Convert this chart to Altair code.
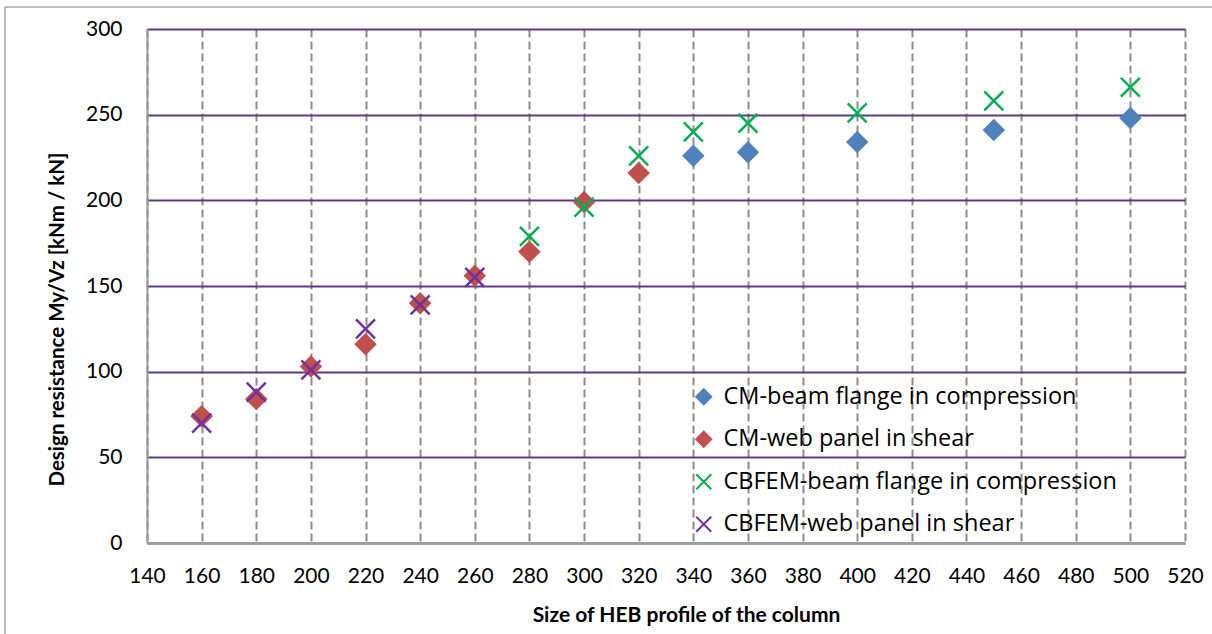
import altair as alt
import pandas as pd

series_names = [
    "CM-beam flange in compression",
    "CM-web panel in shear",
    "CBFEM-beam flange in compression",
    "CBFEM-web panel in shear",
]
colors = ["#4F81BD", "#C0504D", "#00B050", "#7030A0"]

cm_beam_x = [340, 360, 400, 450, 500]
cm_beam_y = [226, 228, 234, 241, 248]

cm_web_x = [160, 180, 200, 220, 240, 260, 280, 300, 320]
cm_web_y = [74, 84, 103, 116, 140, 156, 170, 199, 216]

cbfem_beam_x = [280, 300, 320, 340, 360, 400, 450, 500]
cbfem_beam_y = [179, 196, 226, 240, 245, 251, 258, 266]

cbfem_web_x = [160, 180, 200, 220, 240, 260]
cbfem_web_y = [70, 88, 101, 125, 139, 155]

x_ticks = list(range(140, 521, 20))
y_ticks = [0, 50, 100, 150, 200, 250, 300]

rows = []
for name, xs, ys in zip(series_names,
                        [cm_beam_x, cm_web_x, cbfem_beam_x, cbfem_web_x],
                        [cm_beam_y, cm_web_y, cbfem_beam_y, cbfem_web_y]):
    for xv, yv in zip(xs, ys):
        rows.append({"size": xv, "value": yv, "series": name})
df = pd.DataFrame(rows)

DIAMOND = "diamond"
XSHAPE = "M-1,-1L1,1M-1,1L1,-1"
shapes = [DIAMOND, DIAMOND, XSHAPE, XSHAPE]

FONT = "Lato"
LEGEND_FONT = "Open Sans"

color_scale = alt.Scale(domain=series_names, range=colors)


def make_legend():
    return alt.Legend(orient="none", legendX=545, legendY=356,
                      symbolSize=225, symbolStrokeWidth=2,
                      labelFontSize=23.5, labelOffset=8, labelFont=LEGEND_FONT,
                      rowPadding=17.5, padding=0, labelLimit=600)


points = alt.Chart(df).mark_point(filled=True, size=360, strokeWidth=2.5, opacity=1).encode(
    x=alt.X("size:Q",
            scale=alt.Scale(domain=[140, 520], nice=False, zero=False),
            axis=alt.Axis(values=x_ticks, title="Size of HEB profile of the column",
                          grid=True, gridColor="#8C8C8C", gridDash=[8, 4], gridWidth=2,
                          domainColor="#999999", domainWidth=2, ticks=False,
                          labelOverlap=False, labelFlush=False, labelPadding=22,
                          titlePadding=18, titleX=539,
                          labelFontSize=21, titleFontSize=21, titleFontWeight="bold")),
    y=alt.Y("value:Q",
            scale=alt.Scale(domain=[0, 300], nice=False),
            axis=alt.Axis(values=y_ticks, title="Design resistance My/Vz [kNm / kN]",
                          grid=True, gridColor="#5B3A8E", gridWidth=2,
                          domainColor="#999999", domainWidth=2, ticks=False,
                          labelOverlap=False, labelFlush=False, labelPadding=25,
                          titlePadding=18, titleY=290,
                          labelFontSize=21, titleFontSize=20.5, titleFontWeight="bold")),
    color=alt.Color("series:N", scale=color_scale, title=None, legend=make_legend()),
    stroke=alt.Stroke("series:N", scale=color_scale, title=None, legend=make_legend()),
    shape=alt.Shape("series:N", scale=alt.Scale(domain=series_names, range=shapes),
                    title=None, legend=make_legend()),
    order=alt.Order("idx:Q"),
).transform_calculate(idx="indexof(%s, datum.series)" % str(series_names))

border_df = pd.DataFrame({"b": [0]})
border_top = alt.Chart(border_df).mark_rule(color="#A6A6A6", strokeWidth=1.5).encode(
    x=alt.value(-142), x2=alt.value(1100), y=alt.value(-22))
border_left = alt.Chart(border_df).mark_rule(color="#A6A6A6", strokeWidth=1.5).encode(
    x=alt.value(-142), y=alt.value(-22), y2=alt.value(620))

chart = alt.layer(border_top, border_left, points).properties(
    width=1038, height=514,
    autosize=alt.AutoSizeParams(type="none"),
    padding={"left": 147, "top": 29, "right": 27, "bottom": 91},
).configure(font=FONT).configure_view(stroke=None).configure_axis(
    labelColor="#000000", titleColor="#000000", labelFont=FONT, titleFont=FONT
).configure_legend(labelColor="#000000")

chart.save("out.html", embed_options={"renderer": "svg", "actions": False})
